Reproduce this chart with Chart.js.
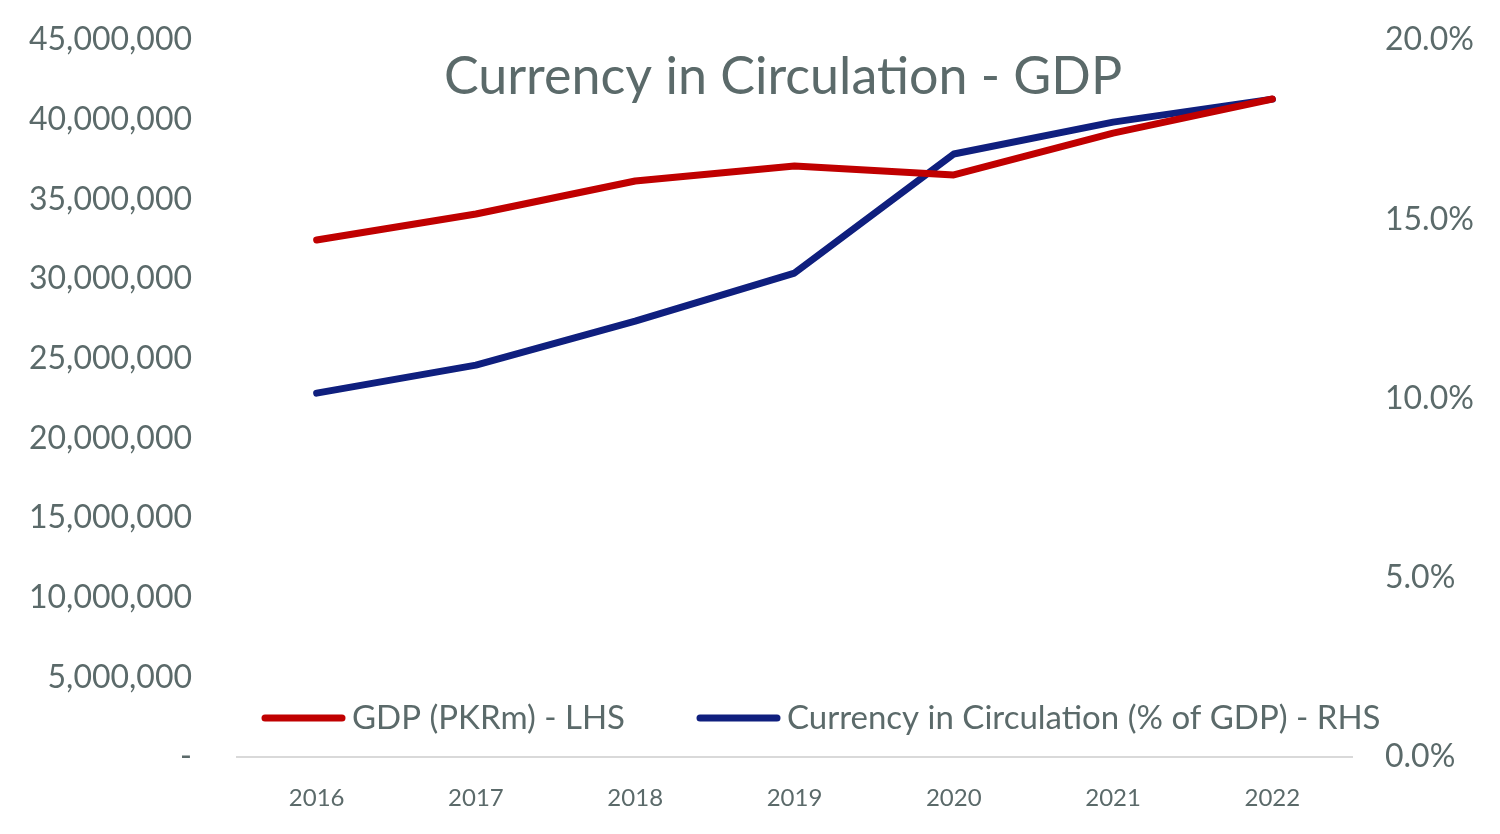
<!DOCTYPE html>
<html>
<head>
<meta charset="utf-8">
<script src="https://cdn.jsdelivr.net/npm/chart.js@4/dist/chart.umd.min.js"></script>
<style>
html,body{margin:0;padding:0;background:#fff;}
#wrap{width:1500px;height:834px;position:relative;}
</style>
</head>
<body>
<div id="wrap"><canvas id="c" width="1500" height="834"></canvas></div>
<script>
const chartTitle = 'Currency in Circulation - GDP';
const years = ['2016','2017','2018','2019','2020','2021','2022'];
const gdpLabel = 'GDP (PKRm) - LHS';
const gdpValues = [32450000, 34080000, 36150000, 37090000, 36530000, 39160000, 41300000];
const cicLabel = 'Currency in Circulation (% of GDP) - RHS';
const cicValues = [0.1015, 0.1093, 0.1216, 0.1350, 0.1682, 0.1771, 0.1835];
const leftTicks = [0, 5000000, 10000000, 15000000, 20000000, 25000000, 30000000, 35000000, 40000000, 45000000];
const rightTicks = [0, 0.05, 0.10, 0.15, 0.20];

const FONT = 'Lato, "Open Sans", sans-serif';
const TXT = '#5b6a6a';
const RED = '#c00000';
const BLUE = '#0f1f7e';

const overlay = {
  id: 'overlay',
  afterDraw(chart) {
    const ctx = chart.ctx;
    ctx.save();
    ctx.fillStyle = TXT;
    ctx.font = '52px ' + FONT;
    ctx.textAlign = 'center';
    ctx.textBaseline = 'middle';
    ctx.fillText(chartTitle, 783, 77);
    const items = [
      {x: 262, color: chart.data.datasets[0].borderColor, text: chart.data.datasets[0].label},
      {x: 697, color: chart.data.datasets[1].borderColor, text: chart.data.datasets[1].label}
    ];
    const y = 718;
    ctx.font = '33px ' + FONT;
    ctx.textAlign = 'left';
    items.forEach(it => {
      ctx.strokeStyle = it.color;
      ctx.lineWidth = 7;
      ctx.lineCap = 'round';
      ctx.beginPath();
      ctx.moveTo(it.x + 3, y);
      ctx.lineTo(it.x + 80, y);
      ctx.stroke();
      ctx.fillStyle = TXT;
      ctx.fillText(it.text, it.x + 90, y);
    });
    ctx.restore();
  }
};

function fixV(width) {
  return function(s) { s.width = width; s.paddingTop = 0; s.paddingBottom = 0; };
}

new Chart(document.getElementById('c'), {
  type: 'line',
  data: {
    labels: years,
    datasets: [
      {label: gdpLabel, data: gdpValues, yAxisID: 'y', borderColor: RED, backgroundColor: RED,
       borderWidth: 7, pointRadius: 0, tension: 0, borderCapStyle: 'round', borderJoinStyle: 'round'},
      {label: cicLabel, data: cicValues, yAxisID: 'y1', borderColor: BLUE, backgroundColor: BLUE,
       borderWidth: 7, pointRadius: 0, tension: 0, borderCapStyle: 'round', borderJoinStyle: 'round'}
    ]
  },
  options: {
    responsive: false,
    animation: false,
    layout: {padding: {top: 40, bottom: 0, left: 0, right: 0}},
    plugins: {legend: {display: false}, title: {display: false}, tooltip: {enabled: false}},
    scales: {
      x: {
        offset: true,
        grid: {display: false, drawTicks: false},
        border: {display: true, color: '#d9d9d9', width: 2},
        ticks: {color: TXT, font: {family: FONT, size: 24}, padding: 27, maxRotation: 0},
        afterFit(s) { s.height = 77; s.paddingLeft = 0; s.paddingRight = 0; }
      },
      y: {
        position: 'left',
        min: 0, max: 45000000,
        afterBuildTicks(s) { s.ticks = leftTicks.map(v => ({value: v})); },
        grid: {display: false, drawTicks: false},
        border: {display: false},
        ticks: {color: TXT, font: {family: FONT, size: 32}, padding: 45,
          callback: v => v === 0 ? '-' : v.toLocaleString('en-US')},
        afterFit: fixV(237)
      },
      y1: {
        position: 'right',
        min: 0, max: 0.20,
        afterBuildTicks(s) { s.ticks = rightTicks.map(v => ({value: v})); },
        grid: {display: false, drawTicks: false},
        border: {display: false},
        ticks: {color: TXT, font: {family: FONT, size: 32}, padding: 33,
          callback: v => (v * 100).toFixed(1) + '%'},
        afterFit: fixV(148)
      }
    }
  },
  plugins: [overlay]
});
</script>
</body>
</html>
